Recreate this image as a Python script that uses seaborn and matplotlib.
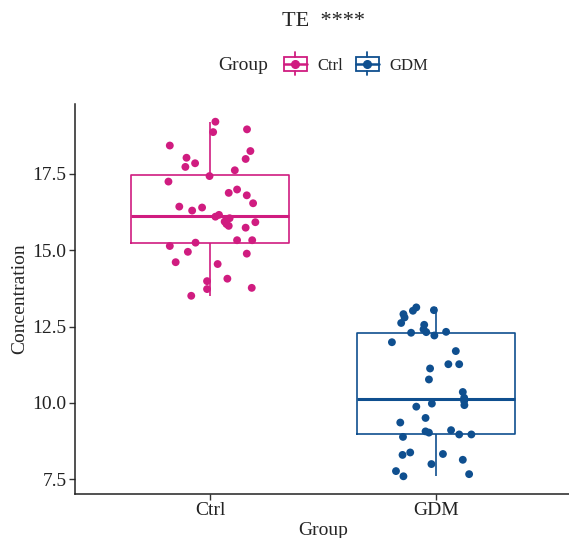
import numpy as np
import pandas as pd
import matplotlib
matplotlib.use("Agg")
import matplotlib.pyplot as plt
import seaborn as sns
from matplotlib.legend_handler import HandlerBase
from matplotlib.patches import Rectangle
from matplotlib.lines import Line2D

# ---------------- data ----------------
groups = ["Ctrl", "GDM"]
ctrl_values = [19.21, 18.87, 18.96, 18.43, 18.25, 18.03, 17.85, 17.73, 17.99, 17.62,
               17.43, 17.25, 16.99, 16.88, 16.80, 16.54, 16.43, 16.40, 16.30, 16.16,
               16.10, 16.05, 15.94, 15.86, 15.80, 15.92, 15.74, 15.33, 15.33, 15.14,
               15.25, 14.95, 14.89, 14.61, 14.55, 14.07, 13.99, 13.73, 13.77, 13.51]
ctrl_jitter = [0.022, 0.012, 0.162, -0.180, 0.177, -0.106, -0.068, -0.111, 0.156, 0.108,
               -0.004, -0.186, 0.118, 0.081, 0.161, 0.189, -0.138, -0.037, -0.081, 0.038,
               0.022, 0.085, 0.063, 0.071, 0.081, 0.199, 0.156, 0.118, 0.185, -0.180,
               -0.066, -0.100, 0.161, -0.154, 0.032, 0.075, -0.015, -0.015, 0.183, -0.085]
gdm_values = [13.13, 13.02, 12.91, 12.80, 12.62, 13.04, 12.56, 12.41, 12.32, 12.30,
              12.21, 12.33, 11.99, 11.70, 11.27, 11.27, 11.13, 10.77, 10.36, 10.17,
              10.06, 9.93, 9.98, 9.88, 9.51, 9.36, 9.07, 9.03, 9.11, 8.97,
              8.97, 8.89, 8.38, 8.30, 8.33, 8.14, 8.00, 7.77, 7.60, 7.67]
gdm_jitter = [-0.088, -0.103, -0.145, -0.140, -0.155, -0.010, -0.053, -0.056, -0.044, -0.111,
              -0.008, 0.044, -0.196, 0.087, 0.054, 0.102, -0.027, -0.032, 0.118, 0.124,
              0.124, 0.125, -0.019, -0.088, -0.047, -0.159, -0.047, -0.032, 0.066, 0.102,
              0.156, -0.147, -0.115, -0.149, 0.030, 0.118, -0.021, -0.178, -0.145, 0.146]
y_ticks = [7.5, 10.0, 12.5, 15.0, 17.5]
title_text = "TE  ****"

# ---------------- styling ----------------
colors = {"Ctrl": "#D01C80", "GDM": "#0F4F8F"}
sns.set_style("white")
plt.rcParams["font.family"] = ["Liberation Serif", "DejaVu Serif"]

df = pd.DataFrame({
    "Group": ["Ctrl"] * len(ctrl_values) + ["GDM"] * len(gdm_values),
    "Concentration": ctrl_values + gdm_values,
    "jit": ctrl_jitter + gdm_jitter,
})
df["xpos"] = df["Group"].map({g: i for i, g in enumerate(groups)}) + df["jit"]

W, H = 569, 538
fig = plt.figure(figsize=(W / 100, H / 100), dpi=100)
ax = fig.add_axes([75 / W, 1 - 494 / H, (571.6 - 75) / W, (494 - 104) / H])

sns.boxplot(data=df, x="Group", y="Concentration", hue="Group", order=groups,
            hue_order=groups, palette=colors, fill=False, width=0.7, showfliers=False,
            showcaps=False, linewidth=1.2, whis=1.5, legend=False, dodge=False,
            medianprops={"linewidth": 2.2}, ax=ax)
sns.scatterplot(data=df, x="xpos", y="Concentration", hue="Group", hue_order=groups,
                palette=colors, s=32, linewidth=0, legend=False, zorder=5, ax=ax)

ax.set_xlim(-0.6, 1.6)
ax.set_ylim(7.02, 19.79)
ax.set_xticks(range(len(groups)))
ax.set_xticklabels(groups)
ax.set_yticks(y_ticks)
ax.set_yticklabels([f"{t:.1f}" for t in y_ticks])
ax.set_xlabel("Group", fontsize=14, labelpad=2)
ax.set_ylabel("Concentration", fontsize=14, labelpad=3)
for s in ["top", "right"]:
    ax.spines[s].set_visible(False)
for s in ["left", "bottom"]:
    ax.spines[s].set_linewidth(1.1)
    ax.spines[s].set_color("#222222")
ax.tick_params(axis="both", which="both", direction="out", length=4, width=1.0,
               color="#333333", labelsize=14, pad=2, left=True, bottom=True)
for lab in ax.get_xticklabels() + ax.get_yticklabels():
    lab.set_color("#222222")

fig.text(323 / W, 1 - 22 / H, title_text, ha="center", va="center", fontsize=16)


class HandlerBoxKey(HandlerBase):
    def create_artists(self, legend, orig_handle, xdescent, ydescent, width, height,
                       fontsize, trans):
        c = orig_handle.get_color()
        cx = width / 2 - xdescent
        cy = height / 2 - ydescent
        bw = width * 0.95
        bh = height * 0.95
        rect = Rectangle((cx - bw / 2, cy - bh / 2), bw, bh, fill=False,
                         edgecolor=c, linewidth=1.3, transform=trans)
        vtop = Line2D([cx, cx], [cy + bh / 2, cy + bh / 2 + height * 0.3], color=c,
                      linewidth=1.3, transform=trans)
        vbot = Line2D([cx, cx], [cy - bh / 2, cy - bh / 2 - height * 0.3], color=c,
                      linewidth=1.3, transform=trans)
        med = Line2D([cx - bw / 2, cx + bw / 2], [cy, cy], color=c, linewidth=1.8,
                     transform=trans)
        dot = Line2D([cx], [cy], marker="o", markersize=5.5, color=c, linestyle="none",
                     transform=trans)
        return [rect, vtop, vbot, med, dot]


handles = [Line2D([], [], color=colors[g]) for g in groups]
fig.text(218 / W, 1 - 65 / H, "Group", ha="left", va="center", fontsize=14)
leg = fig.legend(handles, groups, loc="center left", bbox_to_anchor=(283 / W, 1 - 65 / H),
                 ncol=2, frameon=False, fontsize=12, handlelength=1.45, handleheight=1.0,
                 handletextpad=0.62, columnspacing=0.72, borderpad=0, borderaxespad=0,
                 handler_map={Line2D: HandlerBoxKey()})

fig.savefig("out.png", dpi=100)
